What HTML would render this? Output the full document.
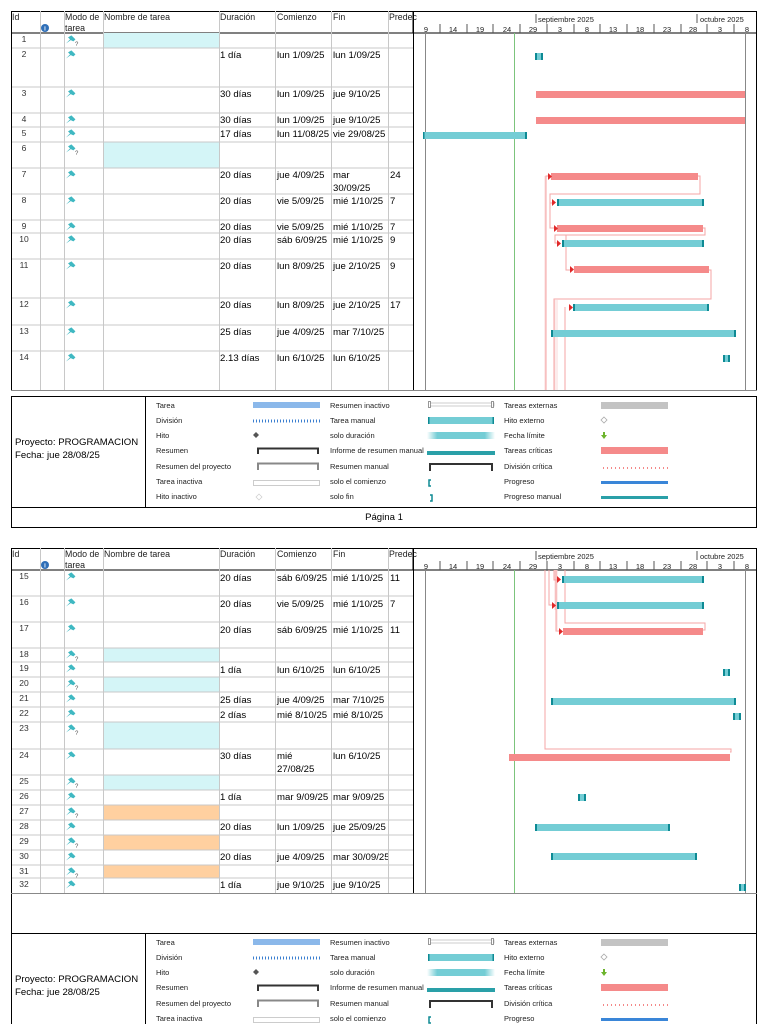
<!DOCTYPE html>
<html><head><meta charset="utf-8"><style>
html,body{margin:0;padding:0;background:#fff;width:768px;height:1024px;overflow:hidden}
svg{display:block}
.t{font-family:"Liberation Sans",sans-serif;font-size:9.6px;fill:#000}
.h{font-family:"Liberation Sans",sans-serif;font-size:8.8px;fill:#222}
.s{font-family:"Liberation Sans",sans-serif;font-size:7.5px;fill:#222}
.id{font-family:"Liberation Sans",sans-serif;font-size:8.5px;fill:#333;text-anchor:middle}
.g{stroke:#c8c8c8;stroke-width:1}
.k{stroke:#000;stroke-width:1}
.c{stroke:#f4a5a5;stroke-width:1;fill:none}
.cl{stroke:#fadada;stroke-width:1;fill:none}
</style></head><body>
<svg width="768" height="1024" viewBox="0 0 768 1024" xmlns="http://www.w3.org/2000/svg">
<defs>
<g id="pin"><g transform="scale(1.35)"><path d="M0,7 L3,4 L1.5,2.5 L4,1 L7,4 L5.5,5.5 L3.5,4.5 Z" fill="#3fb8c2"/></g></g>
<g id="pinq"><g transform="scale(1.35)"><path d="M0,7 L3,4 L1.5,2.5 L4,1 L7,4 L5.5,5.5 L3.5,4.5 Z" fill="#3fb8c2"/></g><text x="9" y="12" font-size="6" fill="#555" font-family="Liberation Sans">?</text></g>
<linearGradient id="gr" x1="0" x2="1"><stop offset="0" stop-color="#fff"/><stop offset="0.15" stop-color="#74cdd5"/><stop offset="0.85" stop-color="#74cdd5"/><stop offset="1" stop-color="#fff"/></linearGradient>
<clipPath id="cp"><rect x="331" y="0" width="57" height="1024"/></clipPath>
<g id="hdr">
<rect x="11.5" y="11.5" width="745" height="21.5" fill="#fff" class="k"/>
<text class="h" x="12" y="20">Id</text>
<circle cx="45" cy="28" r="4" fill="#2f6fb8"/><text x="45" y="30.5" font-size="6" fill="#fff" text-anchor="middle" font-family="Liberation Sans" font-weight="bold">i</text>
<text class="h" x="65" y="20">Modo de</text><text class="h" x="65" y="31">tarea</text>
<text class="h" x="104" y="20">Nombre de tarea</text>
<text class="h" x="220" y="20">Duración</text>
<text class="h" x="277" y="20">Comienzo</text>
<text class="h" x="333" y="20">Fin</text>
<text class="h" x="389" y="20">Predec</text>
<line x1="413" y1="11" x2="413" y2="33" class="k"/>
<line x1="536" y1="14" x2="536" y2="23" stroke="#555"/><text class="s" x="538" y="22">septiembre 2025</text>
<line x1="697" y1="14" x2="697" y2="23" stroke="#555"/><text class="s" x="700" y="22">octubre 2025</text>
<g stroke="#555"><line x1="440" y1="24" x2="440" y2="33"/><line x1="467" y1="24" x2="467" y2="33"/><line x1="493" y1="24" x2="493" y2="33"/><line x1="520" y1="24" x2="520" y2="33"/><line x1="547" y1="24" x2="547" y2="33"/><line x1="574" y1="24" x2="574" y2="33"/><line x1="600" y1="24" x2="600" y2="33"/><line x1="627" y1="24" x2="627" y2="33"/><line x1="654" y1="24" x2="654" y2="33"/><line x1="681" y1="24" x2="681" y2="33"/><line x1="707" y1="24" x2="707" y2="33"/><line x1="734" y1="24" x2="734" y2="33"/></g>
<g class="s" text-anchor="middle"><text x="426" y="32">9</text><text x="453" y="32">14</text><text x="480" y="32">19</text><text x="507" y="32">24</text><text x="533" y="32">29</text><text x="560" y="32">3</text><text x="587" y="32">8</text><text x="613" y="32">13</text><text x="640" y="32">18</text><text x="667" y="32">23</text><text x="693" y="32">28</text><text x="720" y="32">3</text><text x="747" y="32">8</text></g>
</g>
<g id="leg">
<rect x="11.5" y="0.5" width="745" height="111" fill="#fff" class="k"/>
<line x1="145.5" y1="0" x2="145.5" y2="111" class="k"/>
<text class="t" x="15" y="49">Proyecto: PROGRAMACION</text>
<text class="t" x="15" y="62">Fecha: jue 28/08/25</text>
<g class="s">
<text x="156" y="12">Tarea</text><text x="156" y="27">División</text><text x="156" y="42">Hito</text><text x="156" y="57">Resumen</text><text x="156" y="73">Resumen del proyecto</text><text x="156" y="88">Tarea inactiva</text><text x="156" y="103">Hito inactivo</text>
<text x="330" y="12">Resumen inactivo</text><text x="330" y="27">Tarea manual</text><text x="330" y="42">solo duración</text><text x="330" y="57">Informe de resumen manual</text><text x="330" y="73">Resumen manual</text><text x="330" y="88">solo el comienzo</text><text x="330" y="103">solo fin</text>
<text x="504" y="12">Tareas externas</text><text x="504" y="27">Hito externo</text><text x="504" y="42">Fecha límite</text><text x="504" y="57">Tareas críticas</text><text x="504" y="73">División crítica</text><text x="504" y="88">Progreso</text><text x="504" y="103">Progreso manual</text>
</g>
<rect x="253" y="6" width="67" height="6" fill="#8bb8ea"/>
<line x1="253" y1="25" x2="320" y2="25" stroke="#3b7fd0" stroke-width="3" stroke-dasharray="1,2"/>
<path d="M256,36 L259,39 L256,42 L253,39Z" fill="#555"/>
<path d="M258,58 V52.5 H318 V58" stroke="#333" stroke-width="2" fill="none"/>
<path d="M258,74 V67.5 H318 V74" stroke="#888" stroke-width="2" fill="none"/>
<rect x="253.5" y="84.5" width="66" height="5" fill="#fff" stroke="#ccc"/>
<path d="M259,98 L262,101 L259,104 L256,101Z" fill="#fff" stroke="#ccc" stroke-width="0.7"/>
<rect x="429" y="7" width="65" height="3" fill="#fff" stroke="#ccc"/><rect x="428.5" y="5.5" width="2" height="6" fill="#fff" stroke="#555" stroke-width="0.6"/><rect x="491.5" y="5.5" width="2" height="6" fill="#fff" stroke="#555" stroke-width="0.6"/>
<rect x="428" y="21" width="66" height="7" fill="#74cdd5"/><rect x="428" y="21" width="1.5" height="7" fill="#0e8a94"/><rect x="492.5" y="21" width="1.5" height="7" fill="#0e8a94"/>
<rect x="427" y="36" width="68" height="7" fill="url(#gr)"/>
<rect x="427" y="55" width="68" height="4" fill="#2aa0a8"/>
<path d="M430,74 V68 H492 V74" stroke="#333" stroke-width="2" fill="none"/><rect x="429" y="68" width="2" height="7" fill="#333"/><rect x="491" y="68" width="2" height="7" fill="#333"/>
<path d="M431,84 H429 V90 H431" stroke="#0e8a94" stroke-width="1.5" fill="none"/>
<path d="M430,99 H432 V105 H430" stroke="#0e8a94" stroke-width="1.5" fill="none"/>
<rect x="601" y="6" width="67" height="7" fill="#c3c3c3"/>
<path d="M604,21 L607,24 L604,27 L601,24Z" fill="#fff" stroke="#aaa" stroke-width="0.8"/>
<path d="M603,36 H605 V39 H607 L604,43 L601,39 H603Z" fill="#6cb42c"/>
<rect x="601" y="51" width="67" height="7" fill="#f58a8a"/>
<line x1="603" y1="72" x2="668" y2="72" stroke="#f06060" stroke-width="1.5" stroke-dasharray="1,3"/>
<rect x="601" y="85" width="67" height="3" fill="#3a86d8"/>
<rect x="601" y="100" width="67" height="3" fill="#2aa0a8"/>
</g>
</defs>

<!-- PAGE 1 -->
<use href="#hdr"/>
<rect x="103" y="33" width="116" height="15" fill="#d4f5f7"/>
<rect x="103" y="142" width="116" height="26" fill="#d4f5f7"/>
<g class="g">
<line x1="11" y1="48" x2="413" y2="48"/><line x1="11" y1="87" x2="413" y2="87"/><line x1="11" y1="113" x2="413" y2="113"/><line x1="11" y1="127" x2="413" y2="127"/><line x1="11" y1="142" x2="413" y2="142"/><line x1="11" y1="168" x2="413" y2="168"/><line x1="11" y1="194" x2="413" y2="194"/><line x1="11" y1="220" x2="413" y2="220"/><line x1="11" y1="233" x2="413" y2="233"/><line x1="11" y1="259" x2="413" y2="259"/><line x1="11" y1="298" x2="413" y2="298"/><line x1="11" y1="325" x2="413" y2="325"/><line x1="11" y1="351" x2="413" y2="351"/>
<line x1="40.5" y1="11" x2="40.5" y2="390"/><line x1="64.5" y1="11" x2="64.5" y2="390"/><line x1="103.5" y1="11" x2="103.5" y2="390"/><line x1="219.5" y1="11" x2="219.5" y2="390"/><line x1="275.5" y1="11" x2="275.5" y2="390"/><line x1="331.5" y1="11" x2="331.5" y2="390"/><line x1="388.5" y1="11" x2="388.5" y2="390"/>
</g>
<line x1="11.5" y1="11" x2="11.5" y2="390" class="k"/><line x1="756.5" y1="11" x2="756.5" y2="390" class="k"/><line x1="413.5" y1="11" x2="413.5" y2="390" class="k"/>
<line x1="11" y1="390.5" x2="757" y2="390.5" stroke="#888"/>
<line x1="425.5" y1="33" x2="425.5" y2="390" stroke="#888"/><line x1="745.5" y1="33" x2="745.5" y2="390" stroke="#888"/>
<line x1="514.5" y1="33" x2="514.5" y2="390" stroke="#7cc47c"/>
<g class="id"><text x="24" y="42">1</text><text x="24" y="57">2</text><text x="24" y="96">3</text><text x="24" y="122">4</text><text x="24" y="136">5</text><text x="24" y="151">6</text><text x="24" y="177">7</text><text x="24" y="203">8</text><text x="24" y="229">9</text><text x="24" y="242">10</text><text x="24" y="268">11</text><text x="24" y="307">12</text><text x="24" y="334">13</text><text x="24" y="360">14</text></g>
<use href="#pinq" x="66" y="34"/><use href="#pin" x="66" y="49"/><use href="#pin" x="66" y="88"/><use href="#pin" x="66" y="114"/><use href="#pin" x="66" y="128"/><use href="#pinq" x="66" y="143"/><use href="#pin" x="66" y="169"/><use href="#pin" x="66" y="195"/><use href="#pin" x="66" y="221"/><use href="#pin" x="66" y="234"/><use href="#pin" x="66" y="260"/><use href="#pin" x="66" y="299"/><use href="#pin" x="66" y="326"/><use href="#pin" x="66" y="352"/>
<g class="t">
<text x="220" y="58">1 día</text><text x="277" y="58">lun 1/09/25</text><text x="333" y="58">lun 1/09/25</text>
<text x="220" y="97">30 días</text><text x="277" y="97">lun 1/09/25</text><text x="333" y="97">jue 9/10/25</text>
<text x="220" y="123">30 días</text><text x="277" y="123">lun 1/09/25</text><text x="333" y="123">jue 9/10/25</text>
<text x="220" y="137">17 días</text><text x="277" y="137">lun 11/08/25</text><text x="333" y="137">vie 29/08/25</text>
<text x="220" y="178">20 días</text><text x="277" y="178">jue 4/09/25</text><text x="333" y="178">mar</text><text x="333" y="191">30/09/25</text><text x="390" y="178">24</text>
<text x="220" y="204">20 días</text><text x="277" y="204">vie 5/09/25</text><text x="333" y="204">mié 1/10/25</text><text x="390" y="204">7</text>
<text x="220" y="230">20 días</text><text x="277" y="230">vie 5/09/25</text><text x="333" y="230">mié 1/10/25</text><text x="390" y="230">7</text>
<text x="220" y="243">20 días</text><text x="277" y="243">sáb 6/09/25</text><text x="333" y="243">mié 1/10/25</text><text x="390" y="243">9</text>
<text x="220" y="269">20 días</text><text x="277" y="269">lun 8/09/25</text><text x="333" y="269">jue 2/10/25</text><text x="390" y="269">9</text>
<text x="220" y="308">20 días</text><text x="277" y="308">lun 8/09/25</text><text x="333" y="308">jue 2/10/25</text><text x="390" y="308">17</text>
<text x="220" y="335">25 días</text><text x="277" y="335">jue 4/09/25</text><text x="333" y="335">mar 7/10/25</text>
<text x="220" y="361">2.13 días</text><text x="277" y="361">lun 6/10/25</text><text x="333" y="361">lun 6/10/25</text>
</g>
<g class="cl"><line x1="545" y1="176" x2="545" y2="390"/><line x1="555" y1="300" x2="555" y2="390"/><line x1="557" y1="300" x2="557" y2="390"/><line x1="565" y1="320" x2="565" y2="390"/></g>
<g class="c">
<path d="M548,176 H546 V390"/>
<path d="M698,176 H700 V194 H550 V203 H553"/>
<path d="M550,203 V228 H554"/>
<path d="M703,228 H705 V235 H555 V243 H558"/>
<path d="M566,235 V270 H570"/>
<path d="M709,270 H711 V299 H554 V390"/>
<path d="M565,307 V390"/>
</g>
<g fill="#f58a8a"><rect x="536" y="91" width="209" height="7"/><rect x="536" y="117" width="209" height="7"/><rect x="551" y="173" width="147" height="7"/><rect x="557" y="225" width="146" height="7"/><rect x="574" y="266" width="135" height="7"/></g>
<g fill="#e02828"><path d="M548,173 L552,176.5 L548,180Z"/><path d="M552,199 L556,202.5 L552,206Z"/><path d="M554,225 L558,228.5 L554,232Z"/><path d="M557,240 L561,243.5 L557,247Z"/><path d="M570,266 L574,269.5 L570,273Z"/><path d="M569,304 L573,307.5 L569,311Z"/></g>
<g fill="#74cdd5"><rect x="535" y="53" width="8" height="7"/><rect x="423" y="132" width="104" height="7"/><rect x="557" y="199" width="147" height="7"/><rect x="562" y="240" width="142" height="7"/><rect x="573" y="304" width="136" height="7"/><rect x="551" y="330" width="185" height="7"/><rect x="723" y="355" width="7" height="7"/></g>
<g fill="#0e8a94"><rect x="535" y="53" width="2" height="7"/><rect x="541" y="53" width="2" height="7"/><rect x="423" y="132" width="1.5" height="7"/><rect x="525" y="132" width="2" height="7"/><rect x="557" y="199" width="2" height="7"/><rect x="702" y="199" width="2" height="7"/><rect x="562" y="240" width="2" height="7"/><rect x="702" y="240" width="2" height="7"/><rect x="573" y="304" width="2" height="7"/><rect x="707" y="304" width="2" height="7"/><rect x="551" y="330" width="2" height="7"/><rect x="734" y="330" width="2" height="7"/><rect x="723" y="355" width="2" height="7"/><rect x="728" y="355" width="2" height="7"/></g>
<use href="#leg" y="396"/>
<rect x="11.5" y="507.5" width="745" height="20" fill="#fff" class="k"/>
<text class="t" x="384" y="520" text-anchor="middle">Página 1</text>

<!-- PAGE 2 -->
<use href="#hdr" y="537"/>
<rect x="103" y="648" width="116" height="14" fill="#d4f5f7"/>
<rect x="103" y="677" width="116" height="15" fill="#d4f5f7"/>
<rect x="103" y="722" width="116" height="27" fill="#d4f5f7"/>
<rect x="103" y="775" width="116" height="15" fill="#d4f5f7"/>
<rect x="103" y="805" width="116" height="15" fill="#ffd0a0"/>
<rect x="103" y="835" width="116" height="15" fill="#ffd0a0"/>
<rect x="103" y="865" width="116" height="13" fill="#ffd0a0"/>
<g class="g">
<line x1="11" y1="596" x2="413" y2="596"/><line x1="11" y1="622" x2="413" y2="622"/><line x1="11" y1="648" x2="413" y2="648"/><line x1="11" y1="662" x2="413" y2="662"/><line x1="11" y1="677" x2="413" y2="677"/><line x1="11" y1="692" x2="413" y2="692"/><line x1="11" y1="707" x2="413" y2="707"/><line x1="11" y1="722" x2="413" y2="722"/><line x1="11" y1="749" x2="413" y2="749"/><line x1="11" y1="775" x2="413" y2="775"/><line x1="11" y1="790" x2="413" y2="790"/><line x1="11" y1="805" x2="413" y2="805"/><line x1="11" y1="820" x2="413" y2="820"/><line x1="11" y1="835" x2="413" y2="835"/><line x1="11" y1="850" x2="413" y2="850"/><line x1="11" y1="865" x2="413" y2="865"/><line x1="11" y1="878" x2="413" y2="878"/>
<line x1="40.5" y1="548" x2="40.5" y2="893"/><line x1="64.5" y1="548" x2="64.5" y2="893"/><line x1="103.5" y1="548" x2="103.5" y2="893"/><line x1="219.5" y1="548" x2="219.5" y2="893"/><line x1="275.5" y1="548" x2="275.5" y2="893"/><line x1="331.5" y1="548" x2="331.5" y2="893"/><line x1="388.5" y1="548" x2="388.5" y2="893"/>
</g>
<line x1="11.5" y1="548" x2="11.5" y2="933" class="k"/><line x1="756.5" y1="548" x2="756.5" y2="933" class="k"/><line x1="413.5" y1="548" x2="413.5" y2="893" class="k"/>
<line x1="11" y1="893.5" x2="757" y2="893.5" stroke="#888"/>
<line x1="425.5" y1="570" x2="425.5" y2="893" stroke="#888"/><line x1="745.5" y1="570" x2="745.5" y2="893" stroke="#888"/>
<line x1="514.5" y1="570" x2="514.5" y2="893" stroke="#7cc47c"/>
<g class="id"><text x="24" y="579">15</text><text x="24" y="605">16</text><text x="24" y="631">17</text><text x="24" y="657">18</text><text x="24" y="671">19</text><text x="24" y="686">20</text><text x="24" y="701">21</text><text x="24" y="716">22</text><text x="24" y="731">23</text><text x="24" y="758">24</text><text x="24" y="784">25</text><text x="24" y="799">26</text><text x="24" y="814">27</text><text x="24" y="829">28</text><text x="24" y="844">29</text><text x="24" y="859">30</text><text x="24" y="874">31</text><text x="24" y="887">32</text></g>
<use href="#pin" x="66" y="571"/><use href="#pin" x="66" y="597"/><use href="#pin" x="66" y="623"/><use href="#pinq" x="66" y="649"/><use href="#pin" x="66" y="663"/><use href="#pinq" x="66" y="678"/><use href="#pin" x="66" y="693"/><use href="#pin" x="66" y="708"/><use href="#pinq" x="66" y="723"/><use href="#pin" x="66" y="750"/><use href="#pinq" x="66" y="776"/><use href="#pin" x="66" y="791"/><use href="#pinq" x="66" y="806"/><use href="#pin" x="66" y="821"/><use href="#pinq" x="66" y="836"/><use href="#pin" x="66" y="851"/><use href="#pinq" x="66" y="866"/><use href="#pin" x="66" y="879"/>
<g class="t">
<text x="220" y="581">20 días</text><text x="277" y="581">sáb 6/09/25</text><text x="333" y="581">mié 1/10/25</text><text x="390" y="581">11</text>
<text x="220" y="607">20 días</text><text x="277" y="607">vie 5/09/25</text><text x="333" y="607">mié 1/10/25</text><text x="390" y="607">7</text>
<text x="220" y="633">20 días</text><text x="277" y="633">sáb 6/09/25</text><text x="333" y="633">mié 1/10/25</text><text x="390" y="633">11</text>
<text x="220" y="673">1 día</text><text x="277" y="673">lun 6/10/25</text><text x="333" y="673">lun 6/10/25</text>
<text x="220" y="703">25 días</text><text x="277" y="703">jue 4/09/25</text><text x="333" y="703">mar 7/10/25</text>
<text x="220" y="718">2 días</text><text x="277" y="718">mié 8/10/25</text><text x="333" y="718">mié 8/10/25</text>
<text x="220" y="759">30 días</text><text x="277" y="759">mié</text><text x="277" y="772">27/08/25</text><text x="333" y="759">lun 6/10/25</text>
<text x="220" y="800">1 día</text><text x="277" y="800">mar 9/09/25</text><text x="333" y="800">mar 9/09/25</text>
<text x="220" y="830">20 días</text><text x="277" y="830">lun 1/09/25</text><text x="333" y="830">jue 25/09/25</text>
<text x="220" y="860">20 días</text><text x="277" y="860">jue 4/09/25</text><text x="333" y="860" clip-path="url(#cp)">mar 30/09/25</text>
<text x="220" y="888">1 día</text><text x="277" y="888">jue 9/10/25</text><text x="333" y="888">jue 9/10/25</text>
</g>
<g class="cl"><line x1="555" y1="570" x2="555" y2="610"/><line x1="557" y1="570" x2="557" y2="630"/></g>
<g class="c">
<path d="M545,570 V749 H731 V752 H730"/>
<path d="M549,570 V605 H553"/>
<path d="M556,570 V631 H560"/>
<path d="M565,570 V623 H705 V630 H703"/>
<path d="M554,570 V580 H558"/>
</g>
<g fill="#f58a8a"><rect x="563" y="628" width="140" height="7"/><rect x="509" y="754" width="221" height="7"/></g>
<g fill="#e02828"><path d="M557,576 L561,579.5 L557,583Z"/><path d="M552,602 L556,605.5 L552,609Z"/><path d="M559,628 L563,631.5 L559,635Z"/></g>
<g fill="#74cdd5"><rect x="562" y="576" width="142" height="7"/><rect x="557" y="602" width="147" height="7"/><rect x="723" y="669" width="7" height="7"/><rect x="551" y="698" width="185" height="7"/><rect x="733" y="713" width="8" height="7"/><rect x="578" y="794" width="8" height="7"/><rect x="535" y="824" width="135" height="7"/><rect x="551" y="853" width="146" height="7"/><rect x="739" y="884" width="7" height="7"/></g>
<g fill="#0e8a94"><rect x="562" y="576" width="2" height="7"/><rect x="702" y="576" width="2" height="7"/><rect x="557" y="602" width="2" height="7"/><rect x="702" y="602" width="2" height="7"/><rect x="723" y="669" width="2" height="7"/><rect x="728" y="669" width="2" height="7"/><rect x="551" y="698" width="2" height="7"/><rect x="734" y="698" width="2" height="7"/><rect x="733" y="713" width="2" height="7"/><rect x="739" y="713" width="2" height="7"/><rect x="578" y="794" width="2" height="7"/><rect x="584" y="794" width="2" height="7"/><rect x="535" y="824" width="2" height="7"/><rect x="668" y="824" width="2" height="7"/><rect x="551" y="853" width="2" height="7"/><rect x="695" y="853" width="2" height="7"/><rect x="739" y="884" width="2" height="7"/><rect x="744" y="884" width="2" height="7"/></g>
<use href="#leg" y="933"/>
</svg>
</body></html>
